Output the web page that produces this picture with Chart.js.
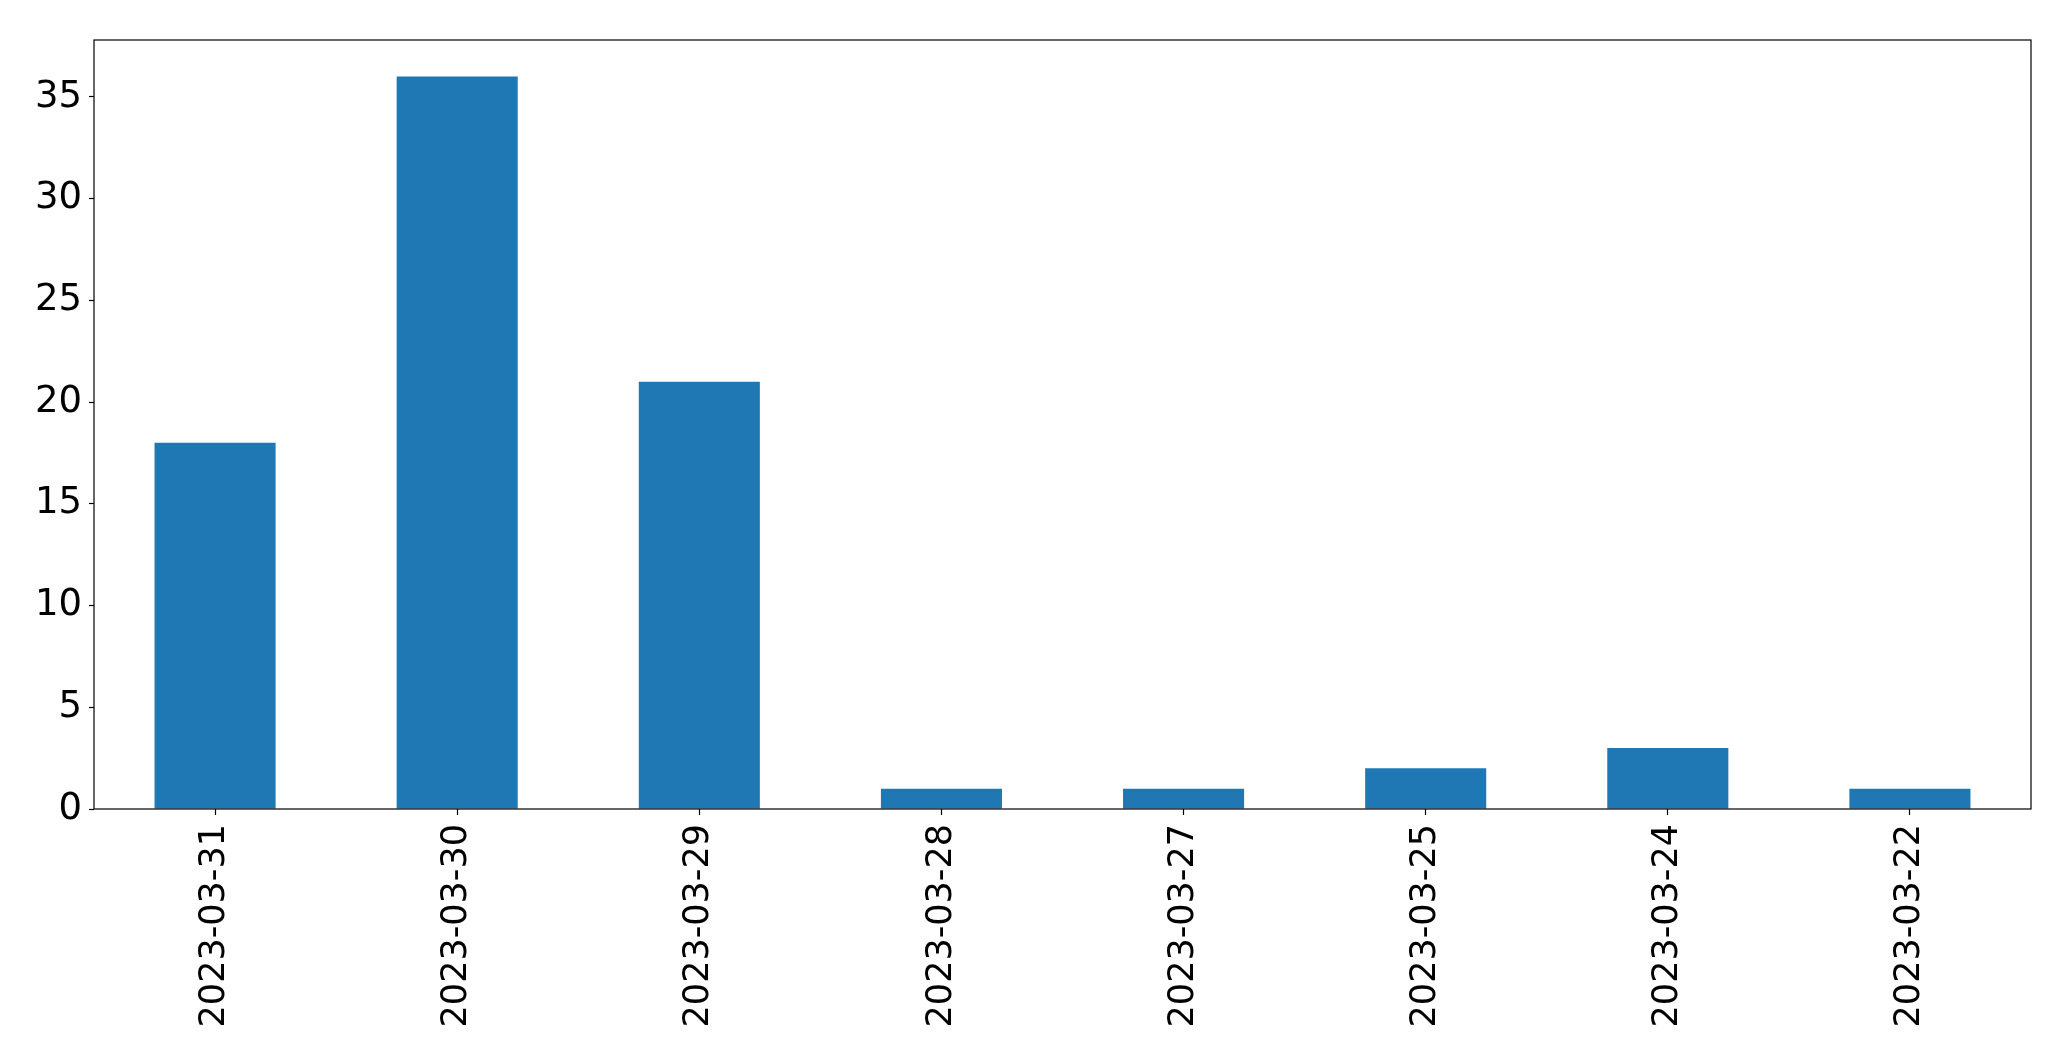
<!DOCTYPE html>
<html>
<head>
<meta charset="utf-8">
<script src="https://cdn.jsdelivr.net/npm/chart.js@4.4.0/dist/chart.umd.min.js"></script>
<style>
html,body{margin:0;padding:0;background:#fff;}
#wrap{width:2071px;height:1061px;position:relative;}
</style>
</head>
<body>
<div id="wrap"><canvas id="c" width="2071" height="1061"></canvas></div>
<script>
const categories = ["2023-03-31","2023-03-30","2023-03-29","2023-03-28","2023-03-27","2023-03-25","2023-03-24","2023-03-22"];
const values = [18, 36, 21, 1, 1, 2, 3, 1];
const yTicks = [0, 5, 10, 15, 20, 25, 30, 35];

const frame = {
  id: 'frame',
  afterDraw(chart) {
    const a = chart.chartArea, ctx = chart.ctx;
    ctx.save();
    ctx.strokeStyle = '#000';
    ctx.lineWidth = 1.2;
    ctx.strokeRect(a.left, a.top, a.right - a.left, a.bottom - a.top);
    ctx.restore();
  }
};

new Chart(document.getElementById('c'), {
  type: 'bar',
  data: {
    labels: categories,
    datasets: [{
      data: values,
      backgroundColor: '#1f77b4',
      borderWidth: 0,
      barPercentage: 0.5,
      categoryPercentage: 1.0
    }]
  },
  options: {
    responsive: false,
    animation: false,
    devicePixelRatio: 1,
    layout: { padding: { top: 40, right: 40, left: 0, bottom: 0 } },
    plugins: { legend: { display: false }, tooltip: { enabled: false } },
    scales: {
      x: {
        grid: { display: true, offset: false, drawOnChartArea: false, tickLength: 6, color: '#000', tickColor: '#000', tickWidth: 1.2 },
        border: { display: false },
        ticks: {
          color: '#000', maxRotation: 90, minRotation: 90, autoSkip: false, padding: 9,
          font: { family: 'DejaVu Sans', size: 35 }
        },
        afterFit(s) { s.height = 252; }
      },
      y: {
        min: 0, max: 37.8,
        grid: { display: true, drawOnChartArea: false, tickLength: 5, color: '#000', tickColor: '#000', tickWidth: 1.2 },
        border: { display: false },
        ticks: {
          color: '#000', stepSize: 5, padding: 7,
          font: { family: 'DejaVu Sans', size: 37 }
        },
        afterBuildTicks(s) { s.ticks = yTicks.map(v => ({ value: v })); },
        afterFit(s) { s.width = 94; }
      }
    }
  },
  plugins: [frame]
});
</script>
</body>
</html>
